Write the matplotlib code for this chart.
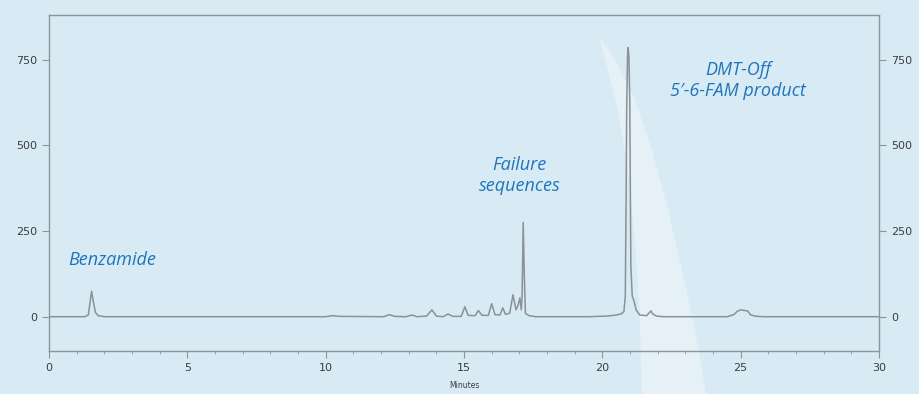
import matplotlib
matplotlib.use("Agg")
import matplotlib.pyplot as plt
import numpy as np

# trace (minutes, signal)
minutes = [0.0, 1.3, 1.42, 1.48, 1.54, 1.6, 1.68, 1.78, 2.0,
           10.0, 10.25, 10.5, 12.1, 12.3, 12.5, 12.9, 13.12, 13.3, 13.65,
           13.84, 14.0, 14.25, 14.42, 14.6, 14.9, 15.03, 15.15, 15.4, 15.52,
           15.65, 15.88, 16.0, 16.12, 16.3, 16.4, 16.5, 16.65, 16.77, 16.88,
           16.96, 17.02, 17.07, 17.1, 17.14, 17.18, 17.22, 17.35, 17.6,
           19.5, 20.2, 20.5, 20.7, 20.78, 20.83, 20.86, 20.88, 20.91, 20.93,
           20.96, 20.99, 21.01, 21.03, 21.08, 21.15, 21.22, 21.35, 21.6,
           21.7, 21.76, 21.82, 21.95, 22.2,
           24.5, 24.75, 24.88, 25.0, 25.15, 25.25, 25.35, 25.5, 25.8, 30.0]
signal = [0, 0, 5, 40, 74, 45, 12, 3, 0,
          0, 3, 1, 0, 6, 1, 0, 5, 0, 2,
          20, 2, 0, 8, 1, 1, 29, 4, 3, 18,
          4, 4, 38, 6, 5, 26, 7, 10, 64, 20,
          35, 55, 20, 60, 275, 120, 10, 3, 0,
          0, 2, 5, 9, 15, 60, 350, 600, 760, 785,
          760, 640, 400, 150, 60, 45, 20, 5, 3,
          12, 17, 8, 2, 0,
          0, 6, 16, 20, 18, 17, 6, 2, 0, 0]

x_ticks = [0, 5, 10, 15, 20, 25, 30]
y_ticks = [0, 250, 500, 750]

labels = ["Benzamide", "Failure\nsequences", "DMT-Off\n5\u2032-6-FAM product"]
label_x = [2.3, 17.0, 24.9]
label_y = [166, 412, 690]

bg = "#d8ebf4"
line_col = "#8b9196"
spine_col = "#8d949a"
text_blue = "#1f74bd"

fig = plt.figure(figsize=(9.19, 3.94), dpi=100, facecolor=bg)

# light swoosh in the background, on its own axes behind the chart
bax = fig.add_axes([0, 0, 1, 1], zorder=-1)
bax.set_xlim(0, 919)
bax.set_ylim(394, 0)
bax.axis("off")
bax.fill([600, 608, 618, 628, 635, 640, 642, 706, 695, 682, 668, 652, 635, 615, 602],
         [40, 70, 110, 170, 240, 320, 394, 394, 330, 270, 210, 150, 100, 60, 40],
         color="white", alpha=0.35, lw=0)

ax = fig.add_axes([49 / 919, 43 / 394, 830 / 919, 336 / 394])
ax.set_facecolor("none")

ax.plot(minutes, signal, color=line_col, lw=1.1, solid_joinstyle="round")

ax.set_xlim(0, 30)
ax.set_ylim(-100, 880)
ax.set_xticks(x_ticks)
ax.set_xticks(range(0, 31), minor=True)
ax.set_yticks(y_ticks)

for s in ax.spines.values():
    s.set_color(spine_col)
    s.set_linewidth(1.0)

ax.tick_params(axis="both", which="major", direction="out", length=5,
               color=spine_col, labelsize=8, labelcolor="#3a3d40")
ax.tick_params(axis="x", which="minor", direction="out", length=2.5,
               color=spine_col)
ax.tick_params(axis="y", left=True, right=True, labelleft=True,
               labelright=True)

ax.set_xlabel("Minutes", fontsize=5.5, color="#3a3d40", labelpad=6)

for txt, tx, ty in zip(labels, label_x, label_y):
    ax.text(tx, ty, txt, ha="center", va="center", color=text_blue,
            fontsize=13, style="italic", family="Open Sans", linespacing=1.2)

fig.savefig("out.png", dpi=100, facecolor=bg)
